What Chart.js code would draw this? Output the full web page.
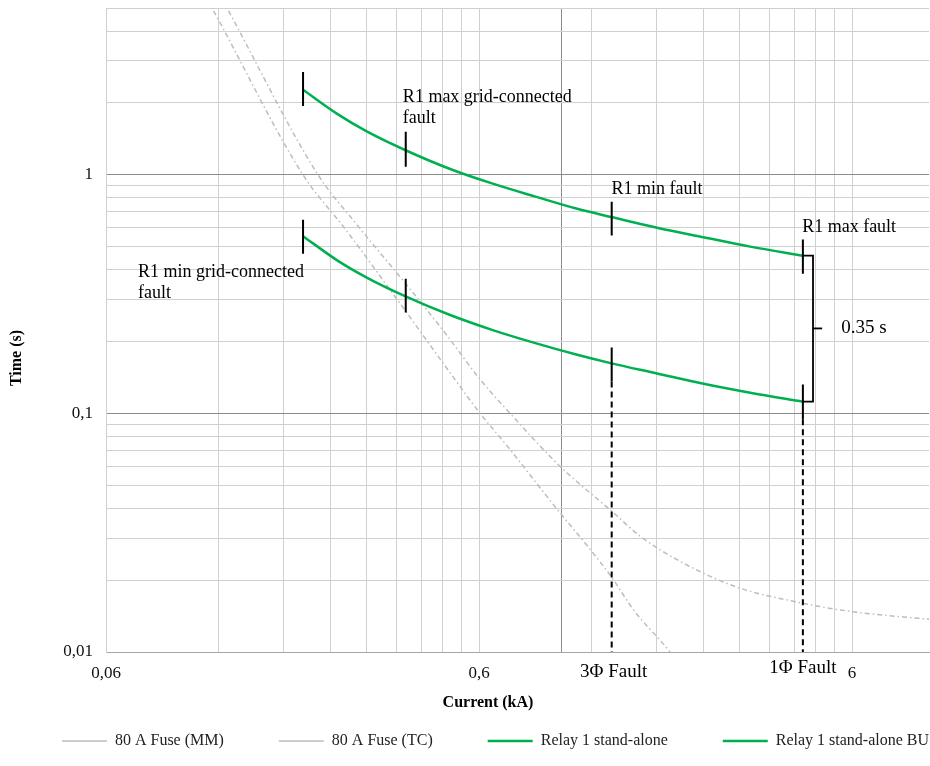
<!DOCTYPE html>
<html>
<head>
<meta charset="utf-8">
<script src="https://cdn.jsdelivr.net/npm/chart.js@4.4.1/dist/chart.umd.min.js"></script>
<style>
body { margin: 0; background: #fff; }
</style>
</head>
<body>
<canvas id="myChart" width="930" height="766"></canvas>
<script>
// relay curves (current in kA, time in s)
var relayCurrent = [0.2025, 0.25, 0.3, 0.38, 0.5, 0.65, 0.85, 1.1, 1.36, 1.8, 2.4, 3.2, 4.43];
var relayTime = [2.27, 1.80, 1.52, 1.27, 1.06, 0.92, 0.81, 0.72, 0.665, 0.60, 0.547, 0.50, 0.458];
var relayBuTime = [0.553, 0.438, 0.371, 0.31, 0.259, 0.224, 0.197, 0.176, 0.162, 0.147, 0.133, 0.122, 0.112];

// fuse curves
var fuseMmCurrent = [0.108, 0.1154, 0.2024, 0.2624, 0.362, 0.517, 0.604, 0.715, 0.971, 1.19, 1.372, 1.553, 1.95, 2.1];
var fuseMmTime = [6, 5, 1, 0.594, 0.30, 0.1388, 0.1, 0.0728, 0.0397, 0.027, 0.0202, 0.0151, 0.01, 0.0085];
var fuseTcCurrent = [0.1187, 0.1266, 0.2221, 0.2843, 0.399, 0.4926, 0.604, 0.727, 0.9894, 1.372, 1.621, 2.075, 2.95, 4.27, 5.93, 9.71];
var fuseTcTime = [6, 5, 1, 0.61, 0.321, 0.212, 0.1388, 0.1, 0.060, 0.0385, 0.0306, 0.024, 0.0187, 0.0162, 0.0148, 0.0137];

// black marks on the relay curves
var markCurrent = [0.2025, 0.3817, 1.361, 4.43];
var markTopLo = [1.944, 1.080, 0.556, 0.385];
var markTopHi = [2.698, 1.513, 0.771, 0.535];
var markBuLo = [0.467, 0.2647, 0.136, 0.0944];
var markBuHi = [0.648, 0.367, 0.189, 0.1322];

// fault currents (dashed lines down to the axis)
var faultCurrent = [1.361, 4.43];
var faultTop = [0.136, 0.0944];
var faultLabels = ['3\u03A6 Fault', '1\u03A6 Fault'];

// 0.35 s bracket
var bracketCurrent = [4.43, 4.716, 4.716, 4.43];
var bracketTime = [0.458, 0.458, 0.112, 0.112];
var bracketTipCurrent = [4.716, 4.99];
var bracketTipTime = [0.227, 0.227];

// axes
var xGrid = [0.06, 0.12, 0.18, 0.24, 0.3, 0.36, 0.42, 0.48, 0.54, 0.6, 1, 1.2, 1.8, 2.4, 3, 3.6, 4.2, 4.8, 5.4, 6];
var yGrid = [0.01, 0.02, 0.03, 0.04, 0.05, 0.06, 0.07, 0.08, 0.09, 0.1, 0.2, 0.3, 0.4, 0.5, 0.6, 0.7, 0.8, 0.9, 1, 2, 3, 4, 5];
var xTickValues = [0.06, 0.6, 6];
var xTickLabels = ['0,06', '0,6', '6'];
var yTickValues = [0.01, 0.1, 1];
var yTickLabels = ['0,01', '0,1', '1'];

var notes = [
    { lines: ['R1 max grid-connected', 'fault'], current: 0.375, time: 2.12 },
    { lines: ['R1 min fault'], current: 1.36, time: 0.866 },
    { lines: ['R1 max fault'], current: 4.41, time: 0.60 },
    { lines: ['R1 min grid-connected', 'fault'], current: 0.0731, time: 0.389 },
    { lines: ['0.35 s'], current: 5.61, time: 0.229, size: 19 }
];

function pts(xs, ys) {
    return xs.map(function (x, i) { return { x: x, y: ys[i] }; });
}

function labelFor(v, values, labels) {
    for (var i = 0; i < values.length; i++) {
        if (Math.abs(v - values[i]) < values[i] * 1e-6) return labels[i];
    }
    return '';
}

var markData = [];
markCurrent.forEach(function (c, i) {
    markData.push({ x: c, y: markTopLo[i] }, { x: c, y: markTopHi[i] }, { x: c, y: null });
    markData.push({ x: c, y: markBuLo[i] }, { x: c, y: markBuHi[i] }, { x: c, y: null });
});

var faultData = [];
faultCurrent.forEach(function (c, i) {
    faultData.push({ x: c, y: faultTop[i] }, { x: c, y: 0.01 }, { x: c, y: null });
});

var notesPlugin = {
    id: 'notes',
    afterInit: function (chart) {
        // let the legend row spread wider than the default wrap rule allows,
        // and keep its box short so the x labels are not clipped
        var legend = chart.legend;
        var fit = legend.fit;
        var draw = legend.draw;
        legend.fit = function () {
            var w = this.maxWidth;
            this.maxWidth = w + 300;
            fit.call(this);
            this.maxWidth = w;
            this.width = w;
            this.height -= 15;
        };
        legend.draw = function (area) {
            this.left -= 300;
            this.right += 300;
            this.top -= 15;
            draw.call(this, area);
            this.left += 300;
            this.right -= 300;
            this.top += 15;
        };
    },
    afterDatasetsDraw: function (chart) {
        var ctx = chart.ctx;
        var xs = chart.scales.x, ys = chart.scales.y, area = chart.chartArea;
        ctx.save();
        ctx.fillStyle = '#000';
        ctx.textBaseline = 'middle';
        ctx.textAlign = 'left';
        notes.forEach(function (n) {
            var px = xs.getPixelForValue(n.current), py = ys.getPixelForValue(n.time);
            ctx.font = (n.size || 18) + 'px "Liberation Serif"';
            n.lines.forEach(function (line, i) { ctx.fillText(line, px, py + i * 21); });
        });
        ctx.textAlign = 'center';
        ctx.font = '19px "Liberation Serif"';
        ctx.fillText(faultLabels[0], xs.getPixelForValue(faultCurrent[0]) + 2, area.bottom + 20);
        ctx.fillText(faultLabels[1], xs.getPixelForValue(faultCurrent[1]), area.bottom + 16);

        ctx.font = 'bold 16px "Liberation Serif"';
        ctx.fillText('Current (kA)', 488, area.bottom + 51);
        ctx.translate(17, 358);
        ctx.rotate(-Math.PI / 2);
        ctx.fillText('Time (s)', 0, 0);
        ctx.restore();
    }
};

Chart.defaults.font.family = '"Liberation Serif", serif';
Chart.defaults.color = '#111';

var ctx = document.getElementById('myChart').getContext('2d');
var myChart = new Chart(ctx, {
    type: 'line',
    data: {
        datasets: [
            {
                label: '80 A Fuse (MM)',
                data: pts(fuseMmCurrent, fuseMmTime),
                borderColor: '#bdbdbd',
                borderWidth: 1.5,
                borderDash: [5, 3, 1.5, 3],
                cubicInterpolationMode: 'monotone',
                order: 3
            },
            {
                label: '80 A Fuse (TC)',
                data: pts(fuseTcCurrent, fuseTcTime),
                borderColor: '#bdbdbd',
                borderWidth: 1.5,
                borderDash: [5, 3, 1.5, 3],
                cubicInterpolationMode: 'monotone',
                order: 3
            },
            {
                label: 'Relay 1 stand-alone',
                data: pts(relayCurrent, relayTime),
                borderColor: '#00b050',
                borderWidth: 2.5,
                cubicInterpolationMode: 'monotone',
                order: 2
            },
            {
                label: 'Relay 1 stand-alone BU',
                data: pts(relayCurrent, relayBuTime),
                borderColor: '#00b050',
                borderWidth: 2.5,
                cubicInterpolationMode: 'monotone',
                order: 2
            },
            {
                data: markData,
                borderColor: '#000',
                borderWidth: 2,
                spanGaps: false,
                order: 1
            },
            {
                data: faultData,
                borderColor: '#000',
                borderWidth: 2,
                borderDash: [6, 4],
                spanGaps: false,
                order: 1
            },
            {
                data: pts(bracketCurrent, bracketTime),
                borderColor: '#000',
                borderWidth: 1.8,
                order: 1
            },
            {
                data: pts(bracketTipCurrent, bracketTipTime),
                borderColor: '#000',
                borderWidth: 1.8,
                order: 1
            }
        ]
    },
    options: {
        responsive: false,
        animation: false,
        elements: { point: { radius: 0 }, line: { fill: false } },
        layout: { padding: { left: 62, top: 8, right: 1, bottom: 7 } },
        plugins: {
            tooltip: { enabled: false },
            legend: {
                position: 'bottom',
                labels: {
                    usePointStyle: true,
                    pointStyle: 'line',
                    pointStyleWidth: 45,
                    padding: 55,
                    color: '#222',
                    font: { size: 16 },
                    filter: function (item) { return !!item.text; },
                    sort: function (a, b) { return a.datasetIndex - b.datasetIndex; }
                }
            }
        },
        scales: {
            x: {
                type: 'logarithmic',
                min: 0.06,
                max: 9.65,
                afterBuildTicks: function (scale) {
                    scale.ticks = xGrid.map(function (v) { return { value: v }; });
                },
                afterFit: function (scale) { scale.height = 41; },
                ticks: {
                    autoSkip: false,
                    maxRotation: 0,
                    padding: 11,
                    font: { size: 17 },
                    callback: function (v) { return labelFor(v, xTickValues, xTickLabels); }
                },
                grid: {
                    drawTicks: false,
                    color: function (c) { return c.tick && c.tick.value === 1 ? '#8c8c8c' : '#d0d0d0'; }
                },
                border: { color: '#a6a6a6' }
            },
            y: {
                type: 'logarithmic',
                min: 0.01,
                max: 5,
                afterBuildTicks: function (scale) {
                    scale.ticks = yGrid.map(function (v) { return { value: v }; });
                },
                afterFit: function (scale) {
                    scale.width = 44;
                    scale.paddingTop = 0;
                    scale.paddingBottom = 0;
                },
                ticks: {
                    autoSkip: false,
                    padding: 13,
                    font: { size: 17 },
                    callback: function (v) { return labelFor(v, yTickValues, yTickLabels); }
                },
                grid: {
                    drawTicks: false,
                    color: function (c) {
                        var v = c.tick && c.tick.value;
                        return (v === 1 || v === 0.1) ? '#8c8c8c' : '#d0d0d0';
                    }
                },
                border: { color: '#d0d0d0' }
            }
        }
    },
    plugins: [notesPlugin]
});
</script>
</body>
</html>
